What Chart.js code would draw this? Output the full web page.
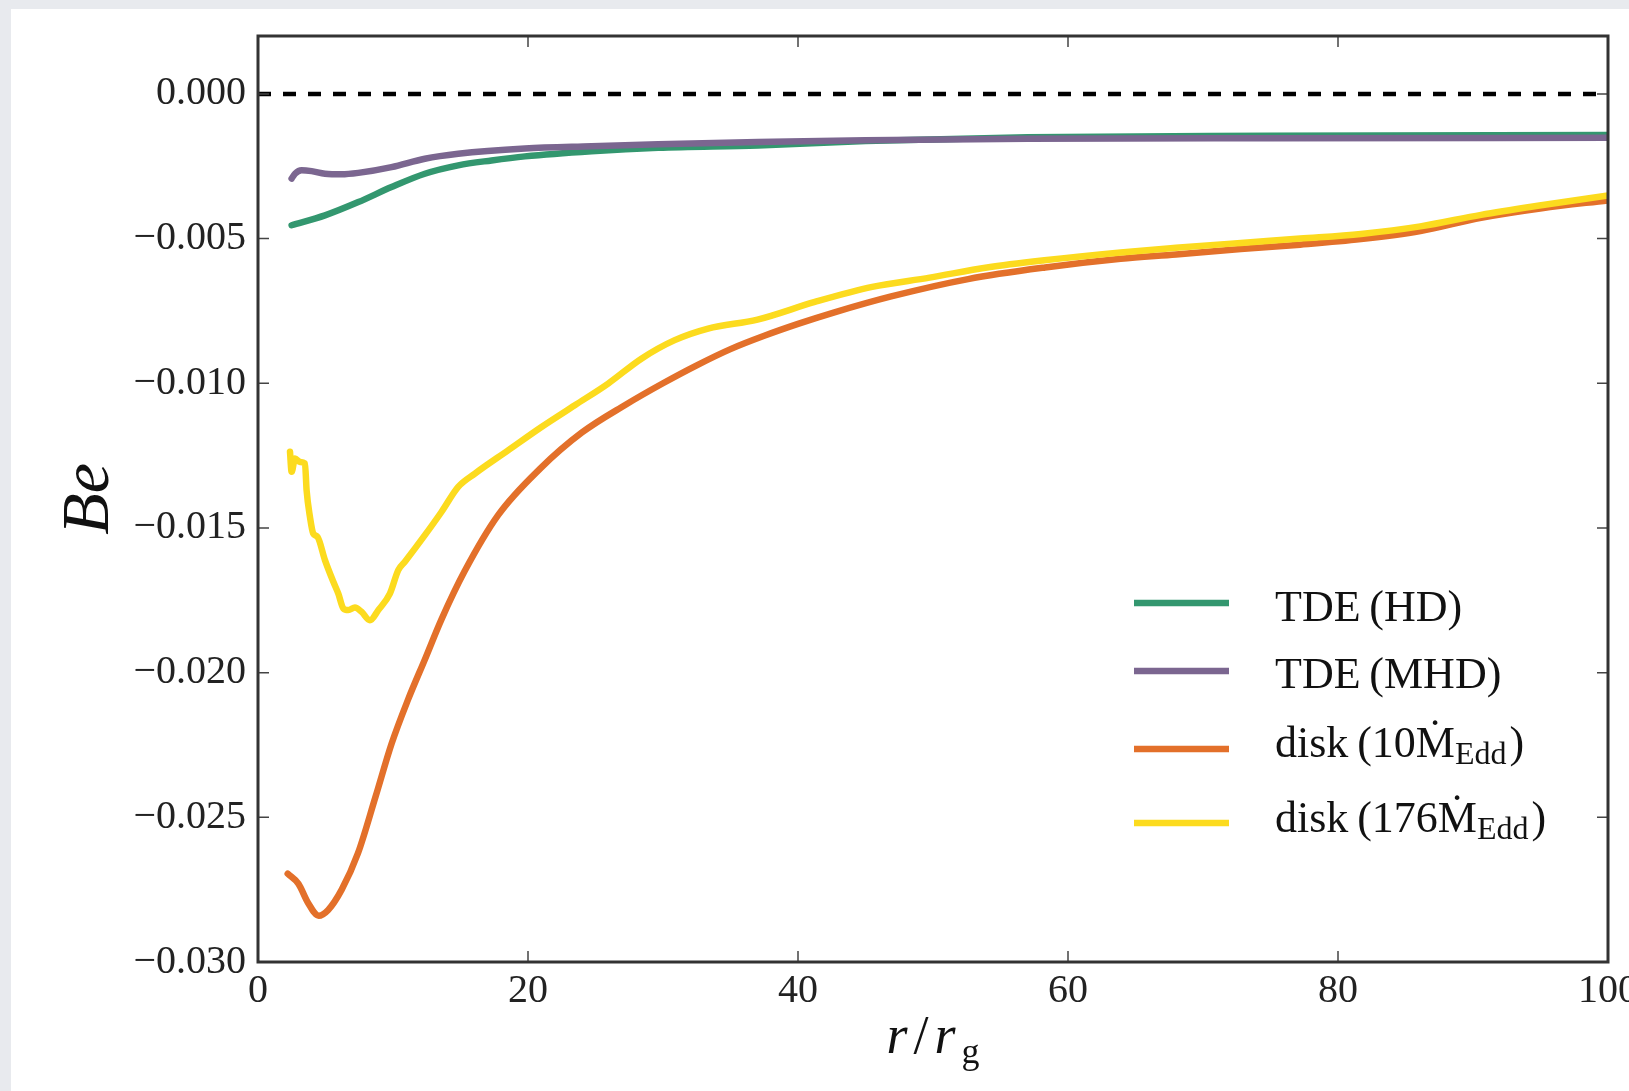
<!DOCTYPE html>
<html>
<head>
<meta charset="utf-8">
<script src="https://cdn.jsdelivr.net/npm/chart.js@4.4.1/dist/chart.umd.min.js"></script>
<style>
  html, body { margin: 0; padding: 0; background: #e8eaee; }
  #wrap { position: absolute; left: 11px; top: 9px; width: 1618px; height: 1082px; background: #fff; }
</style>
</head>
<body>
<div id="wrap"><canvas id="chart" width="1618" height="1082"></canvas></div>
<script>
// r / r_g and Bernoulli parameter for every run
const rHD  = [2.49, 4.96, 7.43, 9.89, 12.36, 14.83, 17.3, 19.77, 24.7, 29.64, 37.04, 45, 57, 75, 100];
const beHD = [-0.00454, -0.00420, -0.00374, -0.00322, -0.00276, -0.00247, -0.00230, -0.00216, -0.00198, -0.00186, -0.00178, -0.00163, -0.00150, -0.00145, -0.00142];

const rMHD  = [2.49, 2.74, 3.23, 3.97, 4.96, 6.19, 7.43, 9.89, 12.36, 14.83, 19.77, 24.7, 29.64, 37.04, 45, 57, 75, 100];
const beMHD = [-0.00293, -0.00276, -0.00264, -0.00267, -0.00276, -0.00278, -0.00273, -0.00253, -0.00224, -0.00207, -0.00189, -0.00181, -0.00174, -0.00166, -0.00160, -0.00155, -0.00153, -0.00152];

const rD10  = [2.2, 3.0, 3.7, 4.5, 5.2, 6.2, 7.4, 8.7, 9.9, 11.1, 12.4, 13.6, 15.3, 17.8, 20.9, 24.0, 27.2, 30.0, 32.5, 35.0, 37.5, 40.0, 42.7, 46.9, 52.6, 58.3, 63.9, 68.0, 72.8, 77.2, 81.7, 86.1, 90.6, 95.1, 100];
const beD10 = [-0.02695, -0.02730, -0.02795, -0.02840, -0.02820, -0.02750, -0.02625, -0.02430, -0.02245, -0.02095, -0.01950, -0.01815, -0.01650, -0.01455, -0.01295, -0.01170, -0.01075, -0.01000, -0.00938, -0.00882, -0.00836, -0.00795, -0.00755, -0.00700, -0.00640, -0.00600, -0.00570, -0.00555, -0.00536, -0.00521, -0.00502, -0.00474, -0.00428, -0.00395, -0.00368];

const rD176  = [2.37, 2.49, 2.74, 3.11, 3.48, 3.6, 3.85, 4.09, 4.41, 4.96, 5.58, 5.95, 6.32, 6.69, 7.18, 7.67, 8.29, 8.91, 9.77, 10.39, 10.88, 12.36, 13.6, 14.83, 16.07, 18.55, 21.0, 23.47, 25.94, 28.4, 30.87, 33.34, 37.0, 41.25, 45.5, 49.75, 54.0, 58.25, 63.9, 68.0, 72.8, 77.2, 81.7, 86.1, 90.6, 95.05, 100];
const beD176 = [-0.01237, -0.01306, -0.01260, -0.01272, -0.01277, -0.01370, -0.01462, -0.01519, -0.01531, -0.01611, -0.01686, -0.01727, -0.01778, -0.01784, -0.01775, -0.01790, -0.01819, -0.01784, -0.01727, -0.01646, -0.01617, -0.01525, -0.01444, -0.01358, -0.01312, -0.01231, -0.01151, -0.01076, -0.01001, -0.00915, -0.00851, -0.00811, -0.00780, -0.00719, -0.00667, -0.00635, -0.00600, -0.00575, -0.00548, -0.00532, -0.00515, -0.00500, -0.00484, -0.00458, -0.00418, -0.00385, -0.00351];

const xTicks = [0, 20, 40, 60, 80, 100];
const yTicks = [-0.030, -0.025, -0.020, -0.015, -0.010, -0.005, 0.000];

const legendMain = ['TDE\u2009(HD)', 'TDE\u2009(MHD)', 'disk\u2009(10\u1E40', 'disk\u2009(176\u1E40'];
const legendSub  = ['', '', 'Edd', 'Edd'];
const legendTail = ['', '', ')', ')'];

const SERIF = "'Liberation Serif', 'DejaVu Serif', serif";

function toPoints(xs, ys) {
    return xs.map((x, i) => ({ x: x, y: ys[i] }));
}

// marco, marcas hacia dentro, títulos de ejes y leyenda
const framePlugin = {
    id: 'frame',
    afterDraw(chart) {
        const { ctx, chartArea: a, scales } = chart;
        ctx.save();

        ctx.strokeStyle = '#444';
        ctx.lineWidth = 1.5;
        ctx.beginPath();
        scales.x.ticks.forEach(t => {
            const px = scales.x.getPixelForValue(t.value);
            ctx.moveTo(px, a.bottom); ctx.lineTo(px, a.bottom - 11);
            ctx.moveTo(px, a.top); ctx.lineTo(px, a.top + 11);
        });
        scales.y.ticks.forEach(t => {
            const py = scales.y.getPixelForValue(t.value);
            ctx.moveTo(a.left, py); ctx.lineTo(a.left + 11, py);
            ctx.moveTo(a.right, py); ctx.lineTo(a.right - 11, py);
        });
        ctx.stroke();

        ctx.strokeStyle = '#333';
        ctx.lineWidth = 3;
        ctx.strokeRect(a.left, a.top, a.right - a.left, a.bottom - a.top);

        // y title: Be
        ctx.fillStyle = '#111';
        ctx.save();
        ctx.translate(97, (a.top + a.bottom) / 2);
        ctx.rotate(-Math.PI / 2);
        ctx.font = 'italic 68px ' + SERIF;
        ctx.textAlign = 'center';
        ctx.textBaseline = 'alphabetic';
        ctx.fillText('Be', 0, 0);
        ctx.restore();

        // x title: r / r_g
        const base = 1044;
        const parts = [['r', 'italic 54px '], ['/', '54px '], ['r', 'italic 54px ']];
        let widths = parts.map(p => { ctx.font = p[1] + SERIF; return ctx.measureText(p[0]).width; });
        ctx.font = '36px ' + SERIF;
        const gW = ctx.measureText('g').width;
        const gap = 6;
        const total = widths.reduce((s, w) => s + w, 0) + gap * 3 + gW;
        let cx = (a.left + a.right) / 2 - total / 2;
        ctx.textAlign = 'left';
        ctx.textBaseline = 'alphabetic';
        parts.forEach((p, i) => {
            ctx.font = p[1] + SERIF;
            ctx.fillText(p[0], cx, base);
            cx += widths[i] + gap;
        });
        ctx.font = '36px ' + SERIF;
        ctx.fillText('g', cx, base + 10);

        // leyenda
        const lineY = [567, 635, 713, 787];
        const textY = [585, 652, 721, 796];
        const series = chart.data.datasets.slice(0, 4);
        series.forEach((ds, i) => {
            ctx.strokeStyle = ds.borderColor;
            ctx.lineWidth = 6.5;
            ctx.beginPath();
            ctx.moveTo(a.right - 474, a.top + lineY[i]);
            ctx.lineTo(a.right - 379, a.top + lineY[i]);
            ctx.stroke();

            let tx = a.right - 333;
            const ty = a.top + textY[i];
            ctx.fillStyle = '#111';
            ctx.font = '44px ' + SERIF;
            ctx.fillText(legendMain[i], tx, ty);
            tx += ctx.measureText(legendMain[i]).width;
            if (legendSub[i]) {
                ctx.font = '32px ' + SERIF;
                ctx.fillText(legendSub[i], tx, ty + 7);
                tx += ctx.measureText(legendSub[i]).width + 3;
                ctx.font = '44px ' + SERIF;
                ctx.fillText(legendTail[i], tx, ty);
            }
        });

        ctx.restore();
    }
};

const ctx = document.getElementById('chart').getContext('2d');
const chart = new Chart(ctx, {
    type: 'line',
    data: {
        datasets: [
            { label: 'TDE (HD)', data: toPoints(rHD, beHD), borderColor: '#33976f', order: 4 },
            { label: 'TDE (MHD)', data: toPoints(rMHD, beMHD), borderColor: '#7b6690', order: 3 },
            { label: 'disk (10Ṁ_Edd)', data: toPoints(rD10, beD10), borderColor: '#e3702a', order: 2 },
            { label: 'disk (176Ṁ_Edd)', data: toPoints(rD176, beD176), borderColor: '#fcdb1e', order: 1 },
            {
                label: 'Be = 0', data: toPoints([0, 100], [0, 0]), borderColor: '#000',
                borderWidth: 4.5, borderDash: [13, 12], borderCapStyle: 'butt', order: 5,
                cubicInterpolationMode: 'default', tension: 0
            }
        ].map(ds => Object.assign({
            borderWidth: 6.5,
            pointRadius: 0,
            fill: false,
            cubicInterpolationMode: 'monotone',
            borderCapStyle: 'round',
            borderJoinStyle: 'round'
        }, ds))
    },
    options: {
        responsive: false,
        animation: false,
        devicePixelRatio: 1,
        layout: { padding: { top: 27, right: 21, left: 0, bottom: 0 } },
        plugins: { legend: { display: false }, tooltip: { enabled: false } },
        scales: {
            x: {
                type: 'linear',
                min: 0,
                max: 100,
                afterBuildTicks: s => { s.ticks = xTicks.map(v => ({ value: v })); },
                ticks: {
                    font: { family: SERIF, size: 40 },
                    color: '#222',
                    padding: 5,
                    maxRotation: 0,
                    callback: v => String(v)
                },
                grid: { display: false, drawTicks: false },
                border: { display: false },
                afterFit: s => { s.height = 129; s.paddingLeft = 0; s.paddingRight = 0; }
            },
            y: {
                type: 'linear',
                min: -0.030,
                max: 0.002,
                afterBuildTicks: s => { s.ticks = yTicks.map(v => ({ value: v })); },
                ticks: {
                    font: { family: SERIF, size: 40 },
                    color: '#222',
                    padding: 12,
                    callback: v => (v < -1e-9 ? '\u2212' : '') + Math.abs(v).toFixed(3)
                },
                grid: { display: false, drawTicks: false },
                border: { display: false },
                afterFit: s => { s.width = 247; s.paddingTop = 0; s.paddingBottom = 0; }
            }
        }
    },
    plugins: [framePlugin]
});
</script>
</body>
</html>
